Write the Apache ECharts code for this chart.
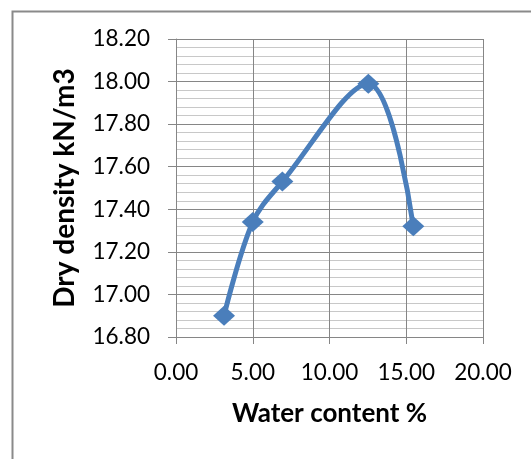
<!DOCTYPE html>
<html>
<head>
<meta charset="utf-8">
<script src="https://cdn.jsdelivr.net/npm/echarts@6/dist/echarts.min.js"></script>
<style>
  html, body { margin: 0; padding: 0; background: #fff; }
  #chart { width: 531px; height: 459px; }
</style>
</head>
<body>
<div id="chart"></div>
<script>
// water content (%) and dry density (kN/m3)
const waterContent = [3.13, 5.0, 6.93, 12.53, 15.46];
const dryDensity = [16.90, 17.34, 17.53, 17.99, 17.32];

const xTicks = [0, 5, 10, 15, 20];
const yTicks = [16.8, 17.0, 17.2, 17.4, 17.6, 17.8, 18.0, 18.2];

const font = "Lato, 'Open Sans', sans-serif";
const blue = "#4A7EBB";

let myChart = echarts.init(document.getElementById("chart"));

let option = {
   backgroundColor: "#fff",
   animation: false,
   // 外框
   graphic: [
      {
         type: "rect",
         left: 10,
         top: 9,
         shape: { width: 600, height: 500 },
         style: { fill: "none", stroke: "#8a8a8a", lineWidth: 2 },
      },
   ],
   grid: {
      left: 176,
      right: 48,
      top: 39,
      bottom: 122,
   },
   xAxis: {
      type: "value",
      min: xTicks[0],
      max: xTicks[xTicks.length - 1],
      interval: 5,
      name: "Water content %",
      nameLocation: "middle",
      nameGap: 64,
      nameTextStyle: { fontFamily: font, fontWeight: "bold", fontSize: 26, color: "#000" },
      axisLine: { show: true, lineStyle: { color: "#868686", width: 1 } },
      axisTick: { show: true, length: 7, lineStyle: { color: "#868686" } },
      axisLabel: {
         margin: 24,
         fontFamily: font,
         fontSize: 22.5,
         color: "#000",
         formatter: (v) => v.toFixed(2),
      },
      splitLine: { show: true, lineStyle: { color: "#868686", width: 1 } },
   },
   yAxis: {
      type: "value",
      min: yTicks[0],
      max: yTicks[yTicks.length - 1],
      interval: 0.2,
      name: "Dry density kN/m3",
      nameLocation: "middle",
      nameGap: 97,
      nameTextStyle: { fontFamily: font, fontWeight: "bold", fontSize: 28, color: "#000" },
      axisLine: { show: true, lineStyle: { color: "#868686", width: 1 } },
      axisTick: { show: true, length: 8, lineStyle: { color: "#868686" } },
      axisLabel: {
         margin: 26,
         fontFamily: font,
         fontSize: 22.5,
         color: "#000",
         formatter: (v) => v.toFixed(2),
      },
      splitLine: { show: true, lineStyle: { color: "#868686", width: 1 } },
      minorTick: { show: false, splitNumber: 5 },
      minorSplitLine: { show: true, lineStyle: { color: "#c8c8c8", width: 1 } },
   },
   series: [
      {
         type: "line",
         smooth: 0.35,
         data: waterContent.map((x, i) => [x, dryDensity[i]]),
         symbol: "diamond",
         symbolSize: [22, 20],
         lineStyle: { color: blue, width: 5 },
         itemStyle: { color: blue },
      },
   ],
};

myChart.setOption(option);
</script>
</body>
</html>
